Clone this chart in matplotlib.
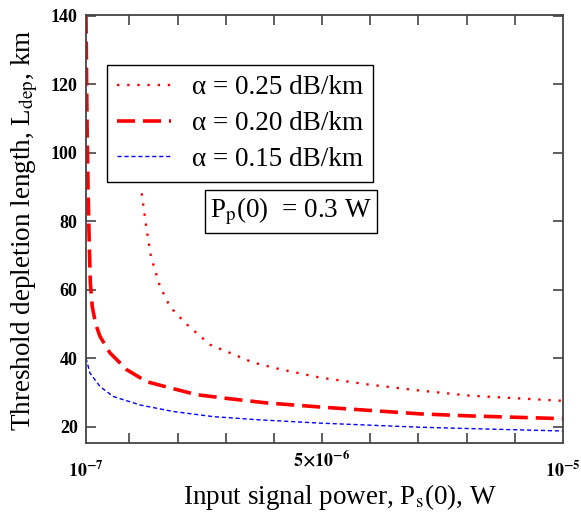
import matplotlib
matplotlib.use("Agg")
import matplotlib.pyplot as plt
import numpy as np

plt.rcParams['font.family'] = ['Liberation Serif', 'DejaVu Serif']
plt.rcParams['mathtext.fontset'] = 'stix'

# Input signal power (W) and threshold depletion length (km)
x_025 = np.array([1.256, 1.36, 1.449, 1.636, 1.843, 2.155, 2.674, 3.089, 3.566,
                  4.106, 4.957, 5.994, 7.032, 8.07, 10.0]) * 1e-6
y_025 = [88.1, 77.4, 69.6, 60.9, 55.0, 50.3, 43.9, 41.5, 38.7,
         36.8, 34.3, 32.2, 30.5, 29.0, 27.5]

x_020 = np.array([0.10, 0.11, 0.125, 0.145, 0.165, 0.19, 0.23, 0.30, 0.391, 0.598,
                  0.945, 1.36, 1.843, 2.398, 3.089, 3.85, 4.957, 5.994, 7.032,
                  8.07, 10.0]) * 1e-6
y_020 = [140, 125, 105, 88, 75, 62, 55, 50, 46.3, 41.5,
         36.6, 33.1, 31.3, 29.3, 28.1, 26.9, 25.7, 24.7, 23.7,
         23.1, 22.3]

x_015 = np.array([0.10, 0.183, 0.391, 0.66, 1.221, 1.906, 2.736, 3.649, 4.957,
                  5.994, 7.032, 8.07, 10.0]) * 1e-6
y_015 = [40, 35.6, 31.7, 28.8, 26.3, 24.4, 22.9, 22.0, 21.0,
         20.4, 19.8, 19.4, 18.7]

labels = ['α = 0.25 dB/km', 'α = 0.20 dB/km', 'α = 0.15 dB/km']
xtick_vals = [1e-7, 5e-6, 1e-5]
xtick_labels = [r'$\mathbf{10^{-7}}$', r'$\mathbf{5{\times}10^{-6}}$', r'$\mathbf{10^{-5}}$']
yticks = [20, 40, 60, 80, 100, 120, 140]

fig = plt.figure(figsize=(5.81, 5.13), dpi=100)
ax = fig.add_axes([0.148, 0.1365, 0.821, 0.8345])

ax.plot(x_025, y_025, color='red', lw=1.7, linestyle=(0, (1, 3.3)), label=labels[0])
ax.plot(x_020, y_020, color='red', lw=2.6, linestyle=(0, (5, 2.2)), label=labels[1])
ax.plot(x_015, y_015, color='blue', lw=1.0, linestyle=(0, (3, 2)), label=labels[2])

ax.set_xlim(1e-7, 1e-5)
ax.set_ylim(15.2, 140.2)

ax.set_xticks(np.arange(1, 10) * 1e-6)
ax.set_xticklabels([])
ax.set_yticks(yticks)
ax.set_yticklabels([str(v) for v in yticks], fontweight='bold', fontsize=13)
ax.tick_params(axis='both', direction='in', length=7, width=1.2, color='#444444',
               top=True, right=True)
ax.tick_params(axis='y', pad=6)
for s in ax.spines.values():
    s.set_color('#444444')
    s.set_linewidth(1.3)

xt = ax.get_xaxis_transform()
offs = [-0.065, -0.04, -0.065]
for v, lab, o in zip(xtick_vals, xtick_labels, offs):
    ax.text(v, o, lab, transform=xt, ha='center', va='center', fontsize=13)

ax.set_xlabel('Input signal power, P$_\\mathrm{s}$(0), W', fontsize=19.5)
ax.xaxis.set_label_coords((340 - 86) / 477, -(497 - 443) / 428)
ax.xaxis.label.set_va('center')
ax.set_ylabel('Threshold depletion length, L$_\\mathrm{dep}$, km', fontsize=19.5)
ax.yaxis.set_label_coords(-(86 - 25) / 477, (443 - 230) / 428)
ax.yaxis.label.set_va('center')

leg = ax.legend(loc='upper left', bbox_to_anchor=(107 / 581, 1 - 65 / 513),
                bbox_transform=fig.transFigure, fontsize=19.5, handlelength=2.0,
                handletextpad=0.75, labelspacing=0.4, borderpad=0.38,
                fancybox=False, framealpha=1, edgecolor='black', borderaxespad=0)
leg.get_frame().set_linewidth(1.0)

ax.text((291 - 86) / 477, (443 - 211.5) / 428, r'P$_\mathrm{p}$(0)  = 0.3 W',
        transform=ax.transAxes, fontsize=19.5, ha='center', va='center',
        bbox=dict(boxstyle='square,pad=0.2', fc='white', ec='black', lw=1.0))

fig.savefig('out.png', dpi=100)
